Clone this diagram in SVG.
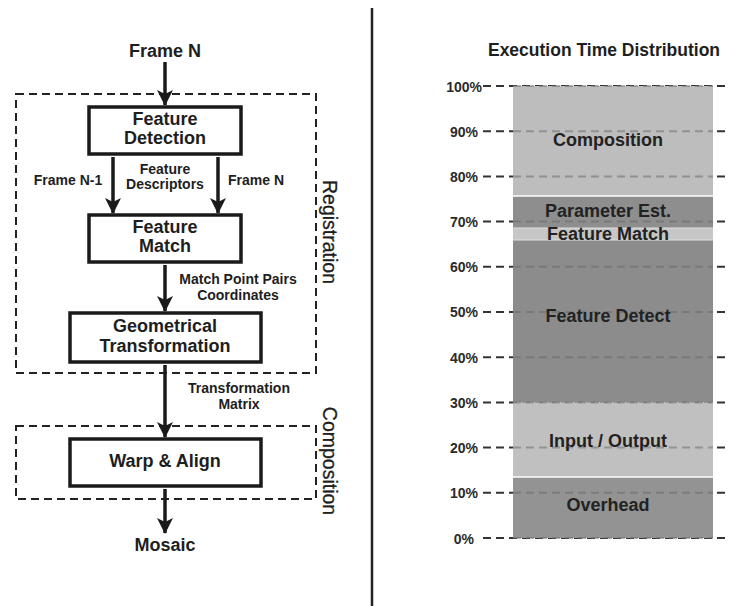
<svg xmlns="http://www.w3.org/2000/svg" width="730" height="606" viewBox="0 0 730 606">
<defs>
<marker id="ah" markerUnits="userSpaceOnUse" markerWidth="16" markerHeight="16" viewBox="0 0 16 16" refX="15" refY="8" orient="auto">
<path d="M0,0 L16,8 L0,16 L4,8 Z" fill="#1a1a1a"/>
</marker>
<style>
text{font-family:"Liberation Sans",Arial,sans-serif;fill:#1e1e1e}
.b{font-weight:bold}
.big{font-size:18px;font-weight:bold;text-anchor:middle}
.lab{font-size:14px;font-weight:bold;text-anchor:middle}
.box{fill:#fff;stroke:#1a1a1a;stroke-width:3.5}
.grp{fill:none;stroke:#222;stroke-width:2;stroke-dasharray:8 5}
.conn line{stroke:#1a1a1a;stroke-width:3.5;marker-end:url(#ah)}
.vert{font-size:19.5px;text-anchor:middle;stroke:#1e1e1e;stroke-width:0.3}
.tick{font-size:14px;font-weight:bold;text-anchor:end;fill:#2a2a2a}
.gd{stroke:#333;stroke-width:2;stroke-dasharray:8 5}
.gg{stroke:#666;stroke-opacity:0.5;stroke-width:2;stroke-dasharray:8 5}
.seg{font-size:18px;font-weight:bold;text-anchor:middle;fill:#222}
</style>
</defs>
<rect width="730" height="606" fill="#fff"/>

<!-- Left panel -->
<g id="registration-group">
<rect class="grp" x="16" y="94" width="300" height="279"/>
<text class="vert" transform="translate(323,232) rotate(90)">Registration</text>
</g>
<g id="composition-group">
<rect class="grp" x="16" y="426" width="300" height="73"/>
<text class="vert" transform="translate(323,461) rotate(90)">Composition</text>
</g>

<g class="conn" id="connectors">
<line x1="165" y1="62" x2="165" y2="105"/>
<line x1="113" y1="157" x2="113" y2="213"/>
<line x1="218" y1="157" x2="218" y2="213"/>
<line x1="165" y1="265" x2="165" y2="311"/>
<line x1="165" y1="365" x2="165" y2="437"/>
<line x1="165" y1="489" x2="165" y2="533"/>
</g>

<g id="frame-n-in"><text class="big" x="165" y="57">Frame N</text></g>
<g id="feature-detection">
<rect class="box" x="89" y="107" width="152" height="47"/>
<text class="big" x="165" y="125">Feature</text>
<text class="big" x="165" y="144">Detection</text>
</g>
<g id="labels-1">
<text class="lab" x="68" y="185">Frame N-1</text>
<text class="lab" x="165" y="173.5">Feature</text>
<text class="lab" x="165" y="189">Descriptors</text>
<text class="lab" x="256" y="185">Frame N</text>
</g>
<g id="feature-match">
<rect class="box" x="89" y="215" width="152" height="47"/>
<text class="big" x="165" y="233">Feature</text>
<text class="big" x="165" y="252">Match</text>
</g>
<g id="labels-2">
<text class="lab" x="238" y="284">Match Point Pairs</text>
<text class="lab" x="238" y="299.5">Coordinates</text>
</g>
<g id="geometrical-transformation">
<rect class="box" x="70" y="313" width="191" height="49"/>
<text class="big" x="165" y="332">Geometrical</text>
<text class="big" x="165" y="351.5">Transformation</text>
</g>
<g id="labels-3">
<text class="lab" x="239" y="393">Transformation</text>
<text class="lab" x="239" y="408.5">Matrix</text>
</g>
<g id="warp-align">
<rect class="box" x="70" y="439" width="191" height="47"/>
<text class="big" x="165" y="467">Warp &amp; Align</text>
</g>
<g id="mosaic"><text class="big" x="165" y="551">Mosaic</text></g>

<!-- Separator -->
<line x1="372" y1="8" x2="372" y2="606" stroke="#222" stroke-width="2.5"/>

<!-- Right panel -->
<g id="chart">
<text class="b" x="604" y="56" font-size="17.5" text-anchor="middle">Execution Time Distribution</text>
<g id="grid-dark">
<line class="gd" x1="483" y1="86" x2="730" y2="86"/>
<line class="gd" x1="483" y1="131.2" x2="730" y2="131.2"/>
<line class="gd" x1="483" y1="176.4" x2="730" y2="176.4"/>
<line class="gd" x1="483" y1="221.6" x2="730" y2="221.6"/>
<line class="gd" x1="483" y1="266.8" x2="730" y2="266.8"/>
<line class="gd" x1="483" y1="312" x2="730" y2="312"/>
<line class="gd" x1="483" y1="357.2" x2="730" y2="357.2"/>
<line class="gd" x1="483" y1="402.4" x2="730" y2="402.4"/>
<line class="gd" x1="483" y1="447.6" x2="730" y2="447.6"/>
<line class="gd" x1="483" y1="492.8" x2="730" y2="492.8"/>
<line class="gd" x1="483" y1="538" x2="730" y2="538"/>
</g>
<g id="bar">
<rect x="513" y="86" width="200" height="110" fill="#bdbdbd"/>
<rect x="513" y="196" width="200" height="32" fill="#8e8e8e"/>
<rect x="513" y="228" width="200" height="12" fill="#c6c6c6"/>
<rect x="513" y="240" width="200" height="162.4" fill="#8c8c8c"/>
<rect x="513" y="402.4" width="200" height="74.6" fill="#c0c0c0"/>
<rect x="513" y="477" width="200" height="61" fill="#939393"/>
<line x1="513" y1="196" x2="713" y2="196" stroke="#fff" stroke-width="1.5"/>
<line x1="513" y1="228" x2="713" y2="228" stroke="#e0e0e0" stroke-width="1"/>
<line x1="513" y1="240" x2="713" y2="240" stroke="#e0e0e0" stroke-width="1"/>
<line x1="513" y1="477" x2="713" y2="477" stroke="#fff" stroke-width="1.5"/>
</g>
<g id="grid-over">
<line class="gg" x1="513" y1="86" x2="713" y2="86"/>
<line class="gg" x1="513" y1="131.2" x2="713" y2="131.2"/>
<line class="gg" x1="513" y1="176.4" x2="713" y2="176.4"/>
<line class="gg" x1="513" y1="221.6" x2="713" y2="221.6"/>
<line class="gg" x1="513" y1="266.8" x2="713" y2="266.8"/>
<line class="gg" x1="513" y1="312" x2="713" y2="312"/>
<line class="gg" x1="513" y1="357.2" x2="713" y2="357.2"/>
<line class="gg" x1="513" y1="402.4" x2="713" y2="402.4"/>
<line class="gg" x1="513" y1="447.6" x2="713" y2="447.6"/>
<line class="gg" x1="513" y1="492.8" x2="713" y2="492.8"/>
<line class="gg" x1="513" y1="538" x2="713" y2="538"/>
</g>
<g id="ticks">
<text class="tick" x="482" y="91.5">100%</text>
<text class="tick" x="478" y="136.5">90%</text>
<text class="tick" x="478" y="181.5">80%</text>
<text class="tick" x="478" y="226.5">70%</text>
<text class="tick" x="478" y="272">60%</text>
<text class="tick" x="478" y="317">50%</text>
<text class="tick" x="478" y="362.5">40%</text>
<text class="tick" x="478" y="407.5">30%</text>
<text class="tick" x="478" y="453">20%</text>
<text class="tick" x="478" y="498">10%</text>
<text class="tick" x="474" y="543.5">0%</text>
</g>
<g id="segment-labels">
<text class="seg" x="608" y="146">Composition</text>
<text class="seg" x="608" y="217">Parameter Est.</text>
<text class="seg" x="608" y="240">Feature Match</text>
<text class="seg" x="608" y="322">Feature Detect</text>
<text class="seg" x="608" y="447">Input / Output</text>
<text class="seg" x="608" y="511">Overhead</text>
</g>
</g>
</svg>
